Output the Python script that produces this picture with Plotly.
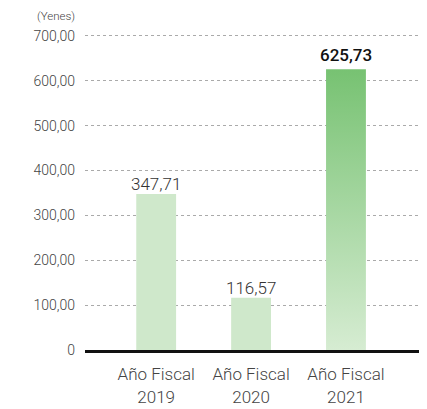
import plotly.graph_objects as go

categories = ["Año Fiscal<br>2019", "Año Fiscal<br>2020", "Año Fiscal<br>2021"]
values = [347.71, 116.57, 625.73]
value_labels = ["347,71", "116,57", "625,73"]
y_tickvals = [0, 100, 200, 300, 400, 500, 600, 700]
y_ticktext = ["0", "100,00", "200,00", "300,00", "400,00", "500,00", "600,00", "700,00"]
unit_label = "(Yenes)"

FONT = "Roboto"
xpos = list(range(len(categories)))
bw = 0.42

fig = go.Figure()
fig.add_trace(go.Bar(
    x=xpos[:2], y=values[:2], width=bw,
    marker=dict(color="#cfe8cb", line=dict(width=0)),
    hoverinfo="skip",
))
x0, x1 = xpos[2] - bw / 2, xpos[2] + bw / 2
fig.add_trace(go.Scatter(
    x=[x0, x1, x1, x0, x0], y=[0, 0, values[2], values[2], 0],
    mode="lines", line=dict(width=0), fill="toself",
    fillgradient=dict(type="vertical",
                      colorscale=[[0, "#d6ecd2"], [1, "#77c272"]]),
    hoverinfo="skip",
))

annotations = []
for i, (v, lab) in enumerate(zip(values, value_labels)):
    last = i == len(values) - 1
    annotations.append(dict(
        x=xpos[i], y=v, xref="x", yref="y", text=lab, showarrow=False,
        xanchor="center", yanchor="bottom", yshift=2 if last else -2,
        font=dict(family=FONT, size=17,
                  color="#111111" if last else "#333333",
                  weight=500 if last else 300),
    ))
annotations.append(dict(
    text=unit_label, xref="paper", yref="paper", x=-0.025, y=1.035,
    xanchor="right", yanchor="middle", showarrow=False,
    font=dict(family=FONT, size=11.5, color="#444444", weight=300),
))

fig.update_layout(
    width=427, height=409,
    margin=dict(l=77, r=15, t=19, b=67),
    plot_bgcolor="white", paper_bgcolor="white",
    showlegend=False, barmode="overlay",
    font=dict(family=FONT, color="#444444"),
    xaxis=dict(
        range=[-0.75, 2.78], tickvals=xpos, ticktext=categories,
        showgrid=False, zeroline=False, automargin=False,
        showline=True, linecolor="#111111", linewidth=3,
        tickfont=dict(family=FONT, size=17, color="#444444", weight=300),
        ticks="", ticklabelstandoff=7, fixedrange=True,
    ),
    yaxis=dict(
        range=[0, 720], tickvals=y_tickvals, ticktext=y_ticktext,
        showgrid=True, gridcolor="#aaaaaa", griddash="dot", gridwidth=1,
        zeroline=False, showline=False, automargin=False,
        tickfont=dict(family=FONT, size=14, color="#444444", weight=300),
        ticklabelstandoff=9, fixedrange=True,
    ),
    annotations=annotations,
)

fig.write_html("out.html")
